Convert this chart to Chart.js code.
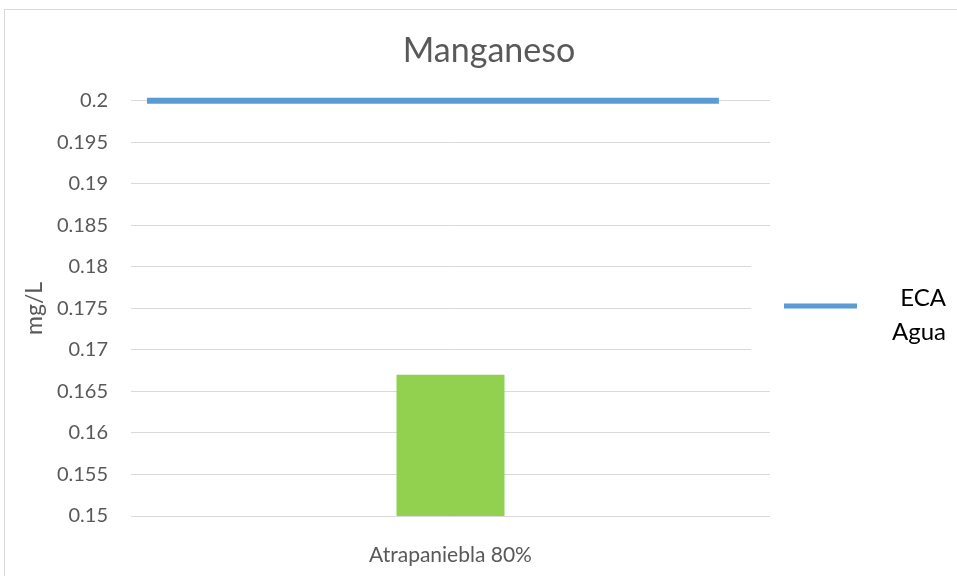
<!DOCTYPE html>
<html>
<head>
    <meta charset="UTF-8">
    <title>Manganeso</title>
    <script src="https://cdn.jsdelivr.net/npm/chart.js"></script>
    <style>
        body { margin: 0; background: #fff; overflow: hidden; }
        #frame {
            position: absolute;
            left: 4px;
            top: 9px;
            width: 1000px;
            height: 700px;
            border: 1px solid #d9d9d9;
        }
        #chartCanvas { position: absolute; left: 0; top: 0; }
    </style>
</head>
<body>
    <div id="frame"></div>
    <canvas id="chartCanvas" width="957" height="576"></canvas>
    <script>
        // data
        var categories = ['Atrapaniebla 80%'];
        var barValues = [0.167];
        var ecaValue = 0.2;
        var ecaLabel = ['ECA', 'Agua'];
        var ecaSpan = [0.025, 0.92]; // where the ECA line starts/ends across the plot
        var yTicks = ['0.15', '0.155', '0.16', '0.165', '0.17', '0.175', '0.18', '0.185', '0.19', '0.195', '0.2'];

        var fontFam = 'Lato, "Open Sans", sans-serif';
        var blue = '#5b9bd5';
        var green = '#92d050';

        // draws the right side legend (text on two lines like the original)
        var sideLegend = {
            id: 'sideLegend',
            afterDraw: function(chart) {
                var ctx = chart.ctx;
                ctx.save();
                // legend box covers the grid a bit
                ctx.fillStyle = '#ffffff';
                ctx.fillRect(751, 266, 20, 88);
                ctx.strokeStyle = blue;
                ctx.lineWidth = 5;
                ctx.beginPath();
                ctx.moveTo(784, 306);
                ctx.lineTo(857, 306);
                ctx.stroke();
                ctx.fillStyle = '#000000';
                ctx.font = '24px ' + fontFam;
                ctx.textAlign = 'right';
                ctx.textBaseline = 'middle';
                ctx.fillText(ecaLabel[0], 946, 298);
                ctx.fillText(ecaLabel[1], 946, 332);
                ctx.restore();
            }
        };

        var ctx = document.getElementById('chartCanvas').getContext('2d');
        var chart = new Chart(ctx, {
            data: {
                labels: categories,
                datasets: [{
                    type: 'bar',
                    label: 'Atrapaniebla',
                    xAxisID: 'x',
                    yAxisID: 'y',
                    data: barValues,
                    backgroundColor: green,
                    grouped: false,
                    barPercentage: 0.169,
                    categoryPercentage: 1,
                    order: 2
                }, {
                    type: 'line',
                    label: ecaLabel.join(' '),
                    xAxisID: 'x2',
                    yAxisID: 'y',
                    data: ecaSpan.map(function(x) { return { x: x, y: ecaValue }; }),
                    borderColor: blue,
                    borderWidth: 6,
                    pointRadius: 0,
                    clip: false,
                    order: 1
                }]
            },
            options: {
                responsive: false,
                animation: false,
                layout: { padding: { left: 21, right: 0, top: 0, bottom: 0 } },
                plugins: {
                    legend: { display: false },
                    tooltip: { enabled: false },
                    title: {
                        display: true,
                        text: 'Manganeso',
                        color: '#595959',
                        font: { family: fontFam, size: 34, weight: 'normal' },
                        padding: { top: 31, bottom: 29 }
                    }
                },
                scales: {
                    x: {
                        type: 'category',
                        offset: true,
                        grid: { display: false },
                        border: { display: false },
                        ticks: {
                            color: '#595959',
                            font: { family: fontFam, size: 21 },
                            padding: 19
                        },
                        afterFit: function(scale) { scale.height = 60; }
                    },
                    x2: {
                        type: 'linear',
                        display: false,
                        offset: false,
                        min: 0,
                        max: 1
                    },
                    y: {
                        min: 0.15,
                        max: 0.2,
                        grid: { color: '#d9d9d9', lineWidth: 1, drawTicks: false },
                        border: { display: false },
                        ticks: {
                            stepSize: 0.005,
                            color: '#595959',
                            font: { family: fontFam, size: 20 },
                            padding: 23,
                            callback: function(value, i) { return yTicks[i]; }
                        },
                        title: {
                            display: true,
                            text: 'mg/L',
                            color: '#595959',
                            font: { family: fontFam, size: 23 },
                            padding: { top: 0, bottom: 0 }
                        },
                        afterFit: function(scale) { scale.width = 110; }
                    },
                    // empty axis on the right, only keeps room for the legend
                    yRight: {
                        position: 'right',
                        min: 0,
                        max: 1,
                        grid: { display: false },
                        border: { display: false },
                        ticks: { display: false },
                        afterFit: function(scale) { scale.width = 187; }
                    }
                }
            },
            plugins: [sideLegend]
        });
    </script>
</body>
</html>
